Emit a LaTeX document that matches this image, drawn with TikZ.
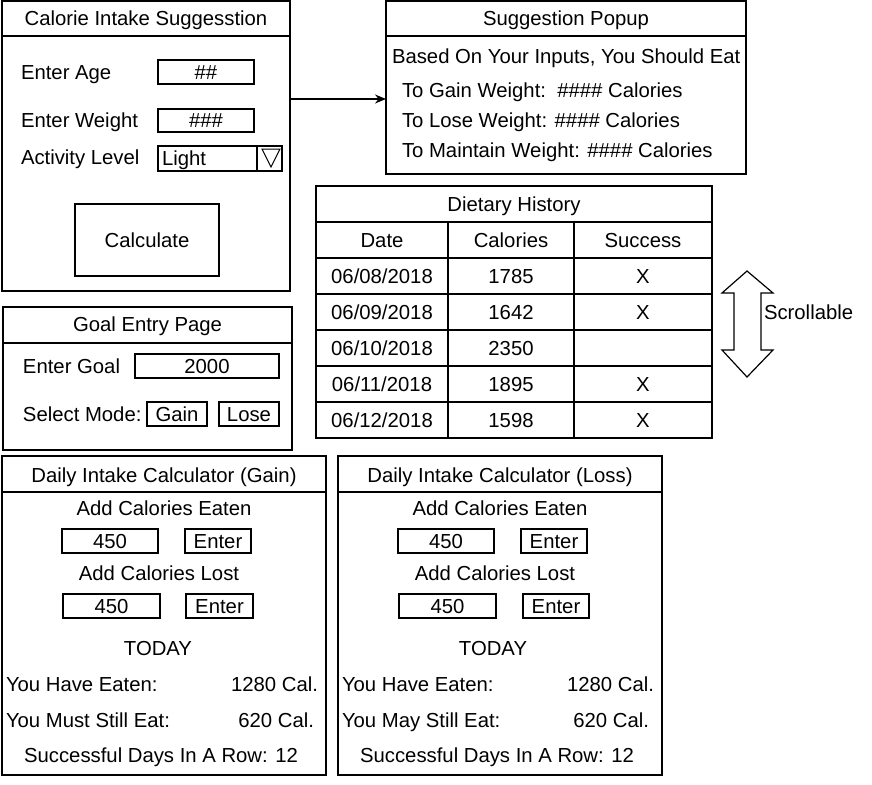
\documentclass[tikz,border=0pt]{standalone}
\usepackage{fontspec}
\setmainfont{Liberation Sans}
\usetikzlibrary{arrows.meta}
\tikzset{
  every node/.style={font=\fontsize{20.3}{24}\selectfont, inner sep=0pt, outer sep=0pt, text height=14.6pt, text depth=0pt},
  panel/.style={draw, line width=1.3pt, rectangle},
  field/.style={draw, line width=1.2pt, rectangle},
  rule/.style={line width=1.3pt},
  lbl/.style={anchor=west},
  rlbl/.style={anchor=east},
  flow/.style={line width=1.2pt, -{Stealth[length=11pt,width=9pt]}},
}
\newcommand\bx[6][]{\node[#1, minimum width={#5-#3}, minimum height={#6-#4}] (#2) at ({(#3+#5)/2},{(#4+#6)/2})}
\begin{document}
\begin{tikzpicture}[x=1pt,y=-1pt]
\useasboundingbox (0,0) rectangle (872,784);

% ---------- Calorie Intake Suggestion ----------
\bx[panel]{cis}{2}{1}{290}{291} {};
\draw[rule] ([yshift=-35pt]cis.north west) -- ([yshift=-35pt]cis.north east);
\node (cist) at (146,18) {Calorie Intake Suggesstion};
\node[lbl] (agel) at (21,72) {Enter Age};
\bx[field]{age}{158}{60}{254}{84} {\#\#};
\node[lbl] (wl) at (21,120) {Enter Weight};
\bx[field]{wt}{158}{109}{254}{132} {\#\#\#};
\node[lbl] (actl) at (21,157) {Activity Level};
\bx[field]{act}{158}{146}{282}{171} {};
\draw[line width=1.2pt] ([xshift=-25pt]act.north east) -- ([xshift=-25pt]act.south east);
\draw[line width=1pt] (262,149) -- (280,149) -- (271,167) -- cycle;
\node[lbl] (light) at (162,158) {Light};
\bx[field]{calc}{75}{204}{219}{276} {Calculate};

% ---------- Suggestion Popup ----------
\bx[panel]{pop}{386}{1}{746}{174} {};
\draw[rule] ([yshift=-35pt]pop.north west) -- ([yshift=-35pt]pop.north east);
\node (popt) at (566,18) {Suggestion Popup};
\node[lbl] (p1) at (392,56) {Based On Your Inputs, You Should Eat};
\node[lbl] (p2) at (402,90) {To Gain Weight:\ \ \#\#\#\# Calories};
\node[lbl] (p3) at (402,120) {To Lose Weight: \#\#\#\# Calories};
\node[lbl] (p4) at (402,150) {To Maintain Weight: \#\#\#\# Calories};

\coordinate (arr) at (0,99);
\draw[flow] (cis.east |- arr) -- (pop.west |- arr);

% ---------- Dietary History ----------
\bx[panel]{dh}{316}{186}{712}{438} {};
\foreach \k in {1,...,6} {
  \draw[rule] ([yshift=-36*\k pt]dh.north west) -- ([yshift=-36*\k pt]dh.north east);
}
\foreach \c in {132,258} {
  \draw[rule] ([xshift=\c pt,yshift=-36pt]dh.north west) -- ([xshift=\c pt]dh.south west);
}
\node (dht) at (514,204) {Dietary History};
\node (hdate) at (382,240) {Date};
\node (hcal) at (511,240) {Calories};
\node (hsuc) at (643,240) {Success};
\foreach \d/\v/\s [count=\i] in {{06/08/2018}/1785/X, {06/09/2018}/1642/X, {06/10/2018}/2350/{}, {06/11/2018}/1895/X, {06/12/2018}/1598/X} {
  \node (d\i) at (382,{240+36*\i}) {\d};
  \node (v\i) at (511,{240+36*\i}) {\v};
  \node (s\i) at (643,{240+36*\i}) {\s};
}
\draw[line width=1.2pt] (747,271) -- (773,293) -- (761,293) -- (761,350) -- (773,350) -- (747,377)
  -- (722,350) -- (734,350) -- (734,293) -- (722,293) -- cycle;
\node[lbl] (scroll) at (764,312) {Scrollable};

% ---------- Goal Entry Page ----------
\bx[panel]{goal}{3}{307}{292}{450} {};
\draw[rule] ([yshift=-36pt]goal.north west) -- ([yshift=-36pt]goal.north east);
\node (goalt) at (147.5,324) {Goal Entry Page};
\node[lbl] (gl) at (23,366) {Enter Goal};
\bx[field]{gf}{135}{354}{279}{378} {2000};
\node[lbl] (ml) at (23,414) {Select Mode:};
\bx[field]{gain}{147}{402}{207}{426} {Gain};
\bx[field]{lose}{219}{402}{279}{426} {Lose};

% ---------- Daily Intake Calculator (Gain) ----------
\bx[panel]{dg}{2}{456}{326}{775} {};
\draw[rule] ([yshift=-36pt]dg.north west) -- ([yshift=-36pt]dg.north east);
\node (dgt) at (164,475) {Daily Intake Calculator (Gain)};
\node (dge) at (164,508) {Add Calories Eaten};
\bx[field]{dgf1}{62}{529}{158}{553} {450};
\bx[field]{dgb1}{185}{529}{251}{553} {Enter};
\node (dgl) at (159,573) {Add Calories Lost};
\bx[field]{dgf2}{63}{594}{160}{618} {450};
\bx[field]{dgb2}{186}{594}{253}{618} {Enter};
\node (dgtd) at (158,648) {TODAY};
\node[lbl] (dgh) at (6,684) {You Have Eaten:};
\node[rlbl] (dghv) at (318,684) {1280 Cal.};
\node[lbl] (dgm) at (6,720) {You Must Still Eat:};
\node[rlbl] (dgmv) at (314,720) {620 Cal.};
\node (dgs) at (161,755) {Successful Days In A Row: 12};

% ---------- Daily Intake Calculator (Loss) ----------
\bx[panel]{dl}{338}{456}{662}{775} {};
\draw[rule] ([yshift=-36pt]dl.north west) -- ([yshift=-36pt]dl.north east);
\node (dlt) at (500,475) {Daily Intake Calculator (Loss)};
\node (dle) at (500,508) {Add Calories Eaten};
\bx[field]{dlf1}{398}{529}{494}{553} {450};
\bx[field]{dlb1}{521}{529}{587}{553} {Enter};
\node (dll) at (495,573) {Add Calories Lost};
\bx[field]{dlf2}{399}{594}{496}{618} {450};
\bx[field]{dlb2}{523}{594}{589}{618} {Enter};
\node (dltd) at (493,648) {TODAY};
\node[lbl] (dlh) at (342,684) {You Have Eaten:};
\node[rlbl] (dlhv) at (654,684) {1280 Cal.};
\node[lbl] (dlm) at (342,720) {You May Still Eat:};
\node[rlbl] (dlmv) at (649,720) {620 Cal.};
\node (dls) at (497,755) {Successful Days In A Row: 12};
\end{tikzpicture}
\end{document}
